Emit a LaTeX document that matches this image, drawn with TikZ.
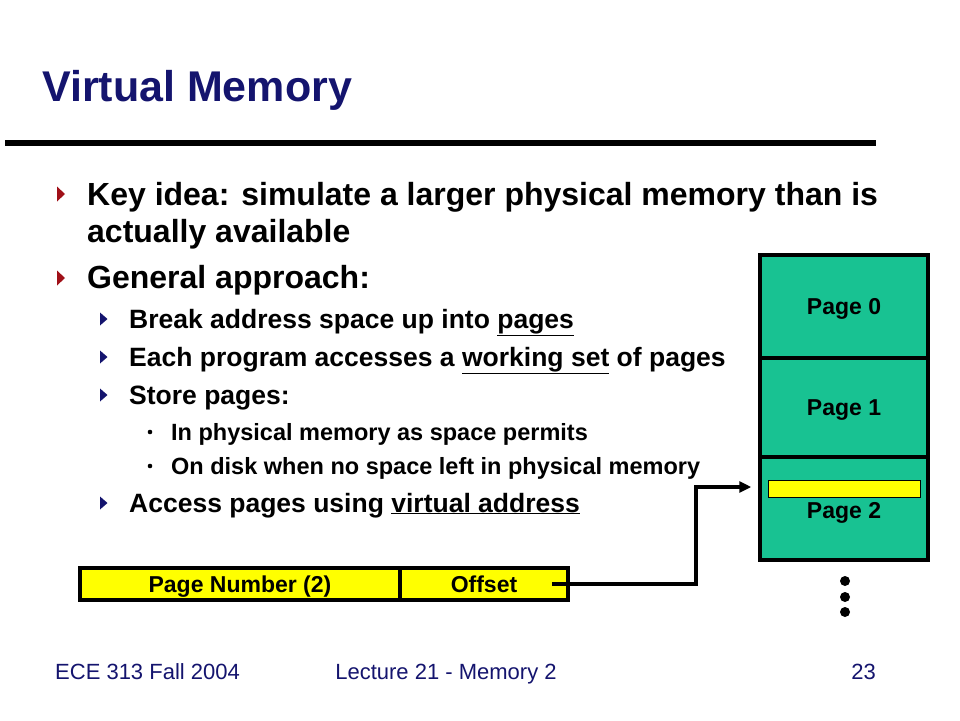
\documentclass[tikz,border=0pt]{standalone}
\usepackage{fontspec}
\setmainfont{Liberation Sans}
\usetikzlibrary{arrows.meta}
\definecolor{title_blue}{RGB}{20,20,110}
\definecolor{bullet_red}{RGB}{160,16,24}
\definecolor{page_green}{RGB}{24,194,146}
\definecolor{addr_yellow}{RGB}{255,255,0}

\tikzset{
  level_one/.style={anchor=base west, inner sep=0pt, font=\bfseries\fontsize{32}{36}\selectfont},
  level_two/.style={anchor=base west, inner sep=0pt, font=\bfseries\fontsize{26.5}{30}\selectfont},
  level_three/.style={anchor=base west, inner sep=0pt, font=\bfseries\fontsize{23.5}{27}\selectfont},
  footer/.style={anchor=base, inner sep=0pt, text=title_blue, font=\fontsize{22}{26}\selectfont},
  page_box/.style={draw, line width=3.5pt, fill=page_green, minimum width=168pt,
    inner sep=0pt, text height=16.5pt, text depth=0pt,
    font=\bfseries\fontsize{23}{26}\selectfont},
  addr_box/.style={draw, line width=3.5pt, fill=addr_yellow, minimum height=32pt,
    inner sep=0pt, text height=16.5pt, text depth=0pt,
    font=\bfseries\fontsize{23}{26}\selectfont}
}

\begin{document}
\begin{tikzpicture}[x=1pt, y=-1pt,
  paths/.style={-{Triangle[length=12pt, width=11pt]}, line width=3.5pt},
  tri_one/.style={fill=bullet_red},
  tri_two/.style={fill=title_blue}]

 \useasboundingbox[fill=white] (0,0) rectangle (960,720);

 % title
 \node (title) [anchor=base west, inner sep=0pt, text=title_blue,
     font=\bfseries\fontsize{43}{47}\selectfont] at (42,101) {Virtual Memory};
 \draw [line width=6pt] (5,143) -- (876,143);

 % bullets
 \foreach \y in {194,278}
   \fill [tri_one] (57,\y-7.5) -- (65,\y) -- (57,\y+7.5) -- cycle;
 \foreach \y in {319,357,395,503}
   \fill [tri_two] (100,\y-6.5) -- (107.5,\y) -- (100,\y+6.5) -- cycle;
 \foreach \y in {432,466}
   \fill (150,\y) circle (2.3pt);

 \node (key_idea) [level_one] at (87,205)
     {Key idea: simulate a larger physical memory than is};
 \node (key_idea_2) [level_one] at (87,242) {actually available};
 \node (approach) [level_one] at (87,288) {General approach:};

 \node (break_pages) [level_two] at (129,328)
     {Break address space up into \underline{pages}};
 \node (working_set) [level_two] at (129,366)
     {Each program accesses a \underline{working set} of pages};
 \node (store_pages) [level_two] at (129,404) {Store pages:};
 \node (in_memory) [level_three] at (171,440)
     {In physical memory as space permits};
 \node (on_disk) [level_three] at (171,474)
     {On disk when no space left in physical memory};
 \node (access) [level_two] at (129,512)
     {Access pages using \underline{virtual address}};

 % memory pages
 \node (page_0) [page_box, minimum height=103pt] at (844,306.5) {Page 0};
 \node (page_1) [page_box, minimum height=99pt] at (844,407.5) {Page 1};
 \node (page_2) [page_box, minimum height=103pt] at (844,508.5) {};
 \node (page_2_label) [inner sep=0pt, text height=16.5pt, text depth=0pt,
     font=\bfseries\fontsize{23}{26}\selectfont] at (844,510) {Page 2};
 \node (offset_slot) [draw, line width=1pt, fill=addr_yellow, minimum width=152pt,
     minimum height=17pt, inner sep=0pt] at (844,488.5) {};

 \foreach \y in {581,597,612}
   \fill (845,\y) circle (5pt);

 % virtual address
 \node (page_number) [addr_box, minimum width=320pt] at (240,584) {Page Number (2)};
 \node (offset) [addr_box, minimum width=168pt] at (484,584) {Offset};

 \coordinate (offset_tail) at (552,584);
 \coordinate (elbow) at (696,487);
 \draw [paths] (offset_tail) -| (elbow)
     -- ([xshift=-7pt]page_2.west |- elbow);

 % footer
 \node (course) [footer, anchor=base west] at (55,679) {ECE 313 Fall 2004};
 \node (lecture) [footer] at (446,679) {Lecture 21 - Memory 2};
 \node (slide_no) [footer, anchor=base east] at (876,679) {23};

\end{tikzpicture}
\end{document}
